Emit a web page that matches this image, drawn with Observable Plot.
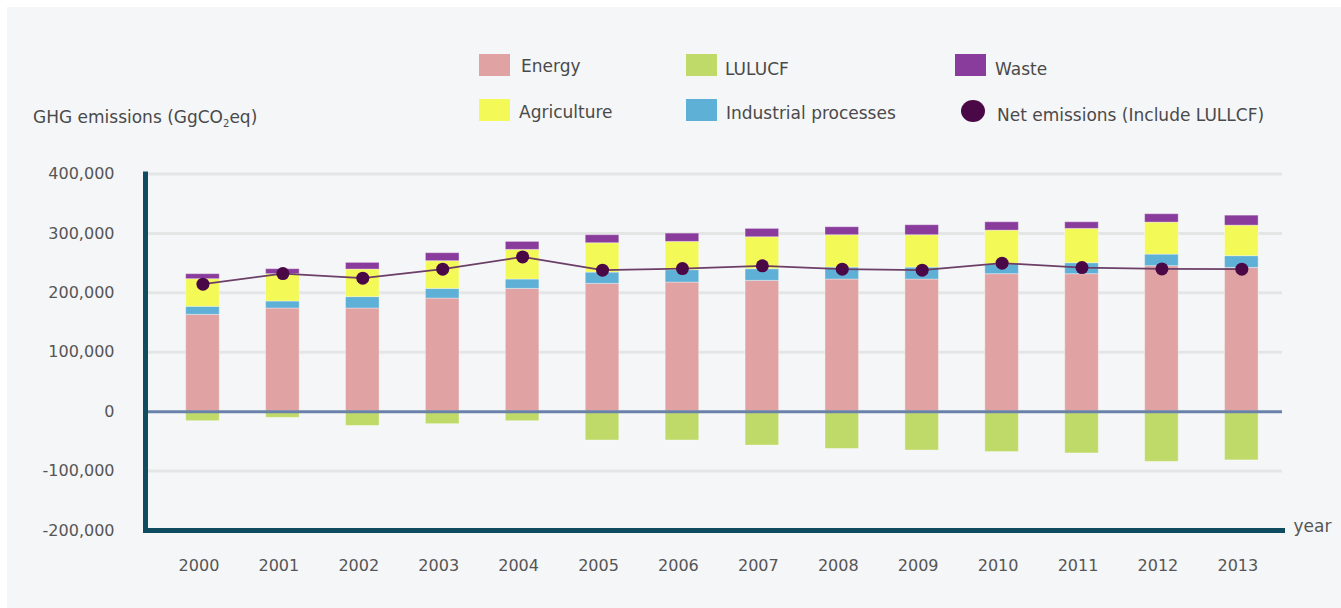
<!DOCTYPE html>
<html>
<head>
<meta charset="utf-8">
<script src="https://cdn.jsdelivr.net/npm/d3@7"></script>
<script src="https://cdn.jsdelivr.net/npm/@observablehq/plot@0.6"></script>
<style>
  html, body { margin: 0; padding: 0; background: #ffffff; width: 1341px; height: 608px; overflow: hidden; }
  #bg { position: absolute; left: 7px; top: 7px; right: 0; bottom: 0; background: #f5f6f8; z-index: 0; }
  #header { position: relative; width: 1341px; height: 150px; z-index: 1; font-family: "DejaVu Sans", sans-serif; color: #4a4a4a; }
  #chart { position: relative; z-index: 1; width: 1341px; height: 458px; }
  .sw { position: absolute; width: 31px; height: 22px; }
  .lt { position: absolute; font-size: 17px; line-height: 20px; white-space: nowrap; }
  .dotsw { position: absolute; width: 24px; height: 22px; border-radius: 50%; }
  #ytitle { position: absolute; left: 33px; top: 107px; font-size: 17px; line-height: 20px; white-space: nowrap; color: #4a4a4a; }
  #ytitle sub { font-size: 10px; vertical-align: -4px; line-height: 0; }
</style>
</head>
<body>
<div id="bg"></div>
<div id="header"></div>
<div id="chart"></div>
<script>
// ---- data ----
const years = ["2000","2001","2002","2003","2004","2005","2006","2007","2008","2009","2010","2011","2012","2013"];
const categories = ["Energy", "Industrial processes", "Agriculture", "Waste", "LULUCF"];
const energy      = [163000, 173600, 173600, 190400, 206700, 215100, 217300, 220200, 222400, 222400, 231400, 231400, 244900, 242000];
const industrial  = [13500, 11800, 19200, 16300, 15700, 19000, 20900, 19600, 20100, 20100, 16800, 18500, 19500, 19700];
const agriculture = [46500, 46000, 46400, 46600, 49900, 49400, 47500, 53800, 54500, 54500, 56500, 57700, 53800, 51400];
const waste       = [8400, 8400, 11200, 13400, 13400, 13500, 14000, 14000, 13400, 16800, 14100, 11200, 14100, 16800];
const lulucf      = [-16000, -10400, -24000, -21000, -16000, -48500, -48500, -57000, -62700, -65400, -68000, -70300, -84500, -82000];
const net         = [214600, 232400, 224700, 239800, 260500, 238200, 240800, 245400, 239800, 238200, 249900, 242500, 240300, 239800];
const yTicks = [-200000, -100000, 0, 100000, 200000, 300000, 400000];
const gridTicks = [-100000, 100000, 200000, 300000, 400000];

// legend entries (label, colour)
const legendTitle = "GHG emissions (GgCO<sub>2</sub>eq)";
const colors = {
  "Energy": "#e1a2a3",
  "Industrial processes": "#5fb0d6",
  "Agriculture": "#f3f957",
  "Waste": "#8a3c9d",
  "LULUCF": "#bfda68"
};
const netColor = "#4b0847";

// ---- build table ----
const series = {"Energy": energy, "Industrial processes": industrial, "Agriculture": agriculture, "Waste": waste, "LULUCF": lulucf};
const rows = [];
years.forEach((yr, i) => {
  for (const c of categories) rows.push({year: yr, category: c, value: series[c][i]});
});
const netRows = years.map((yr, i) => ({year: yr, value: net[i]}));

// ---- header (legend + y title) ----
const header = document.getElementById("header");
const legendItems = [
  {label: "Energy", kind: "sw", color: colors["Energy"], sx: 479, sy: 54, tx: 521, ty: 56},
  {label: "Agriculture", kind: "sw", color: colors["Agriculture"], sx: 479, sy: 99, tx: 519, ty: 102},
  {label: "LULUCF", kind: "sw", color: colors["LULUCF"], sx: 686, sy: 54, tx: 725, ty: 59},
  {label: "Industrial processes", kind: "sw", color: colors["Industrial processes"], sx: 686, sy: 99, tx: 726, ty: 103},
  {label: "Waste", kind: "sw", color: colors["Waste"], sx: 955, sy: 54, tx: 995, ty: 59},
  {label: "Net emissions (Include LULLCF)", kind: "dot", color: netColor, sx: 961, sy: 100, tx: 997, ty: 105}
];
for (const it of legendItems) {
  const s = document.createElement("div");
  s.className = it.kind === "sw" ? "sw" : "dotsw";
  s.style.left = it.sx + "px"; s.style.top = it.sy + "px"; s.style.background = it.color;
  header.appendChild(s);
  const t = document.createElement("div");
  t.className = "lt";
  t.style.left = it.tx + "px"; t.style.top = it.ty + "px";
  t.textContent = it.label;
  header.appendChild(t);
}
const yt = document.createElement("div");
yt.id = "ytitle";
yt.innerHTML = legendTitle;
header.appendChild(yt);

// ---- chart ----
const fmt = d3.formatLocale({decimal: ".", thousands: ",", grouping: [3], currency: ["", ""], minus: "-"}).format(",");
const chart = Plot.plot({
  width: 1341,
  height: 458,
  marginLeft: 145,
  marginRight: 59,
  marginTop: 23.5,
  marginBottom: 78,
  style: {fontFamily: "DejaVu Sans, sans-serif", fontSize: "16px", color: "#555", background: "transparent", overflow: "visible"},
  x: {domain: years, paddingInner: 0.58, paddingOuter: 0.404, align: 0.63, round: false, label: null},
  y: {domain: [-200000, 400000], label: null},
  color: {domain: categories, range: categories.map(c => colors[c])},
  marks: [
    Plot.ruleY(gridTicks, {stroke: "#e4e6e5", strokeWidth: 3}),
    Plot.barY(rows, {x: "year", y: "value", fill: "category", stroke: "#ffffff", strokeOpacity: 0.35, strokeWidth: 1}),
    Plot.ruleY([0], {stroke: "#6a82a9", strokeWidth: 3}),
    Plot.lineY(netRows, {x: "year", y: "value", stroke: "#6b3f66", strokeWidth: 1.8}),
    Plot.dot(netRows, {x: "year", y: "value", r: 6.5, fill: netColor, stroke: "none"}),
    Plot.axisY(yTicks, {tickFormat: fmt, tickSize: 0, tickPadding: 31, label: null, fill: "#555"}),
    Plot.axisX({tickSize: 0, tickPadding: 29, dx: -4, label: null, fill: "#555"}),
    Plot.frame({anchor: "left", stroke: "#0f4c5f", strokeWidth: 5}),
    Plot.frame({anchor: "bottom", stroke: "#0f4c5f", strokeWidth: 5}),
    Plot.text(["year"], {frameAnchor: "bottom-right", textAnchor: "start", dx: 11, dy: 1, fontSize: 17, fill: "#555"})
  ]
});
document.getElementById("chart").appendChild(chart);
</script>
</body>
</html>
